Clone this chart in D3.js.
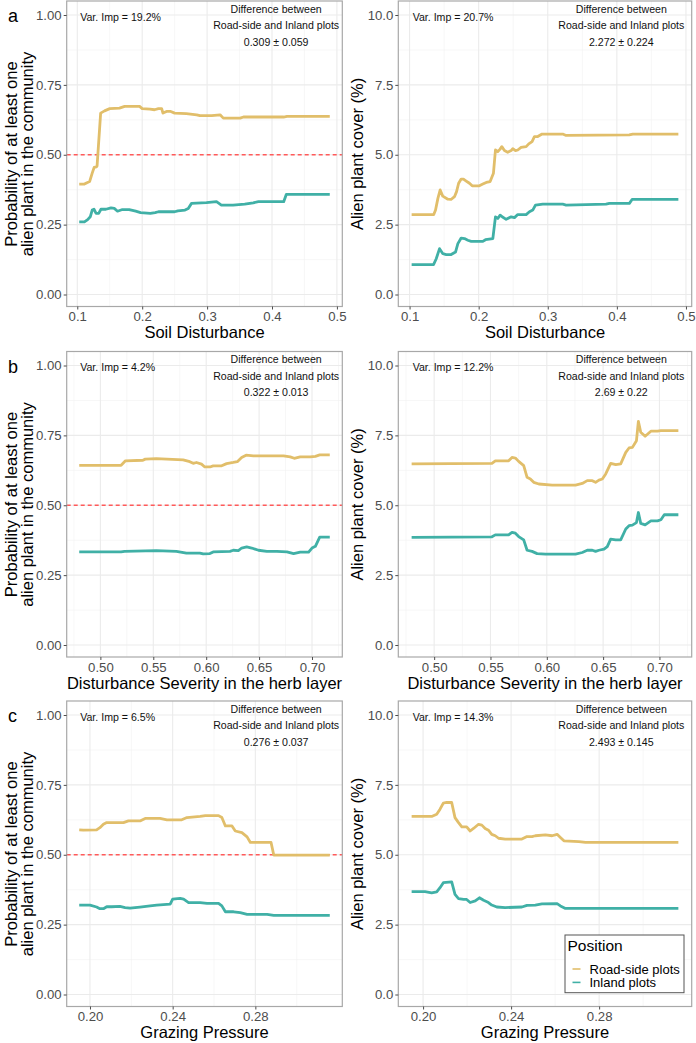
<!DOCTYPE html>
<html>
<head>
<meta charset="utf-8">
<script src="https://cdn.jsdelivr.net/npm/d3@7"></script>
<style>
  body { margin: 0; background: #fff; }
  svg { display: block; font-family: "Liberation Sans", Arial, sans-serif; }
  .tick text { fill: #4d4d4d; font-size: 13.2px; }
  .tick line { stroke: #4d4d4d; }
</style>
</head>
<body>
<svg id="chart" width="696" height="1043"></svg>
<script>
// row a: soil disturbance
const soilProbRoad = [[0.103,0.395],[0.111,0.395],[0.115,0.400],[0.119,0.404],[0.123,0.434],[0.126,0.455],[0.1295,0.457],[0.1305,0.460],[0.136,0.649],[0.142,0.657],[0.150,0.665],[0.165,0.667],[0.173,0.673],[0.196,0.673],[0.200,0.665],[0.212,0.663],[0.219,0.661],[0.225,0.665],[0.230,0.665],[0.232,0.649],[0.2375,0.655],[0.244,0.655],[0.250,0.649],[0.268,0.647],[0.284,0.643],[0.289,0.640],[0.307,0.640],[0.320,0.643],[0.325,0.631],[0.351,0.631],[0.356,0.635],[0.418,0.635],[0.423,0.637],[0.489,0.637]];
const soilProbInland = [[0.103,0.260],[0.111,0.260],[0.116,0.268],[0.120,0.278],[0.123,0.302],[0.1257,0.305],[0.129,0.290],[0.133,0.290],[0.1365,0.305],[0.144,0.305],[0.152,0.310],[0.157,0.308],[0.162,0.298],[0.1695,0.304],[0.180,0.304],[0.190,0.298],[0.1975,0.293],[0.2125,0.290],[0.220,0.293],[0.225,0.296],[0.250,0.296],[0.255,0.299],[0.266,0.302],[0.271,0.308],[0.276,0.326],[0.299,0.329],[0.3145,0.332],[0.322,0.320],[0.340,0.320],[0.358,0.323],[0.371,0.328],[0.379,0.332],[0.418,0.332],[0.422,0.358],[0.489,0.358]];
const soilCoverRoad = [[0.103,2.86],[0.135,2.86],[0.1376,3.02],[0.141,3.44],[0.1443,3.74],[0.148,3.52],[0.1554,3.41],[0.160,3.40],[0.165,3.50],[0.168,3.68],[0.171,3.98],[0.1747,4.13],[0.178,4.13],[0.182,4.06],[0.1867,3.98],[0.1906,3.89],[0.201,3.89],[0.206,3.95],[0.211,4.01],[0.2166,4.04],[0.2214,4.34],[0.2243,5.17],[0.2277,5.11],[0.231,5.20],[0.2335,5.29],[0.2373,5.15],[0.242,5.09],[0.247,5.15],[0.2494,5.22],[0.2533,5.15],[0.2566,5.17],[0.2614,5.26],[0.2687,5.29],[0.2725,5.39],[0.2773,5.47],[0.2807,5.65],[0.2855,5.65],[0.2918,5.74],[0.3217,5.74],[0.3265,5.69],[0.418,5.71],[0.423,5.74],[0.489,5.74]];
const soilCoverInland = [[0.103,1.07],[0.1347,1.07],[0.1386,1.28],[0.1434,1.64],[0.1482,1.46],[0.153,1.43],[0.1602,1.43],[0.1665,1.52],[0.1699,1.82],[0.1747,2.02],[0.1795,2.00],[0.1843,1.94],[0.1892,1.90],[0.206,1.90],[0.2099,1.96],[0.2205,2.00],[0.2243,2.78],[0.2277,2.72],[0.2311,2.84],[0.234,2.78],[0.2398,2.69],[0.247,2.78],[0.2518,2.75],[0.2566,2.86],[0.2687,2.86],[0.2735,2.96],[0.2783,3.02],[0.2822,3.20],[0.2928,3.23],[0.3217,3.23],[0.3265,3.20],[0.3843,3.23],[0.3892,3.26],[0.4181,3.26],[0.422,3.40],[0.489,3.40]];

// row b: disturbance severity in the herb layer
const herbProbRoad = [[0.480,0.643],[0.5196,0.643],[0.5237,0.659],[0.5402,0.661],[0.5424,0.665],[0.5528,0.667],[0.5782,0.662],[0.5845,0.656],[0.5877,0.650],[0.5908,0.653],[0.5956,0.647],[0.5987,0.637],[0.6035,0.637],[0.6066,0.641],[0.6146,0.641],[0.6193,0.649],[0.6256,0.653],[0.6294,0.656],[0.6335,0.671],[0.6377,0.679],[0.6446,0.677],[0.6731,0.677],[0.6794,0.673],[0.6832,0.668],[0.6889,0.673],[0.6984,0.673],[0.7032,0.675],[0.7073,0.680],[0.7168,0.680]];
const herbProbInland = [[0.480,0.333],[0.5196,0.333],[0.5228,0.335],[0.5528,0.338],[0.5718,0.335],[0.5813,0.329],[0.594,0.329],[0.5972,0.326],[0.6035,0.327],[0.6066,0.333],[0.6225,0.335],[0.6256,0.339],[0.6304,0.338],[0.6335,0.347],[0.6383,0.351],[0.643,0.347],[0.6494,0.339],[0.6573,0.335],[0.6668,0.335],[0.6763,0.333],[0.6826,0.327],[0.6889,0.332],[0.6968,0.332],[0.700,0.347],[0.7032,0.353],[0.7073,0.386],[0.7168,0.386]];
const herbCoverRoad = [[0.480,6.48],[0.5513,6.50],[0.5543,6.59],[0.5661,6.59],[0.5691,6.71],[0.5721,6.69],[0.575,6.57],[0.5795,6.42],[0.5825,6.00],[0.5854,5.94],[0.5884,5.82],[0.5929,5.76],[0.6047,5.72],[0.6255,5.72],[0.6315,5.78],[0.6359,5.88],[0.6404,5.88],[0.6433,5.82],[0.6463,5.90],[0.6493,5.94],[0.6523,6.12],[0.6567,6.50],[0.6612,6.45],[0.6656,6.48],[0.6701,6.89],[0.673,7.05],[0.676,7.07],[0.6796,7.31],[0.6813,8.00],[0.6834,7.61],[0.6873,7.47],[0.6924,7.65],[0.6983,7.65],[0.7013,7.67],[0.7168,7.67]];
const herbCoverInland = [[0.480,3.85],[0.5513,3.87],[0.5543,3.94],[0.5661,3.94],[0.5691,4.03],[0.5721,4.00],[0.575,3.88],[0.5795,3.76],[0.5825,3.39],[0.5869,3.35],[0.5914,3.27],[0.5988,3.25],[0.6255,3.25],[0.6315,3.31],[0.6359,3.39],[0.6404,3.39],[0.6433,3.35],[0.6463,3.39],[0.6508,3.43],[0.6537,3.52],[0.6567,3.79],[0.6612,3.76],[0.6656,3.76],[0.6701,4.15],[0.673,4.27],[0.676,4.29],[0.6796,4.38],[0.6813,4.74],[0.6834,4.35],[0.6873,4.30],[0.6924,4.44],[0.6983,4.44],[0.7013,4.48],[0.7043,4.66],[0.7168,4.66]];

// row c: grazing pressure
const grazProbRoad = [[0.1948,0.589],[0.1968,0.588],[0.2032,0.589],[0.2048,0.597],[0.2065,0.609],[0.2081,0.615],[0.2162,0.615],[0.2186,0.621],[0.2242,0.621],[0.2267,0.630],[0.2339,0.630],[0.2372,0.625],[0.2444,0.625],[0.2469,0.633],[0.2533,0.637],[0.2558,0.640],[0.2622,0.640],[0.2638,0.633],[0.2655,0.603],[0.2687,0.603],[0.2703,0.585],[0.2735,0.579],[0.276,0.564],[0.2776,0.544],[0.2876,0.544],[0.2889,0.499],[0.316,0.499]];
const grazProbInland = [[0.1948,0.320],[0.200,0.320],[0.2032,0.313],[0.2048,0.307],[0.2065,0.307],[0.2081,0.314],[0.2105,0.314],[0.2145,0.315],[0.217,0.311],[0.2194,0.309],[0.2218,0.311],[0.2242,0.313],[0.2291,0.317],[0.2323,0.320],[0.2388,0.323],[0.240,0.341],[0.2436,0.344],[0.2453,0.341],[0.2477,0.329],[0.2533,0.329],[0.2566,0.326],[0.2622,0.326],[0.2638,0.317],[0.2655,0.296],[0.2695,0.296],[0.2727,0.293],[0.276,0.287],[0.2857,0.287],[0.2889,0.283],[0.316,0.283]];
const grazCoverRoad = [[0.1948,6.37],[0.2039,6.37],[0.2062,6.45],[0.2077,6.63],[0.2092,6.85],[0.2107,6.87],[0.213,6.87],[0.2145,6.33],[0.2161,6.15],[0.2176,6.00],[0.2198,6.00],[0.2214,5.85],[0.2229,5.94],[0.2252,6.09],[0.2267,6.06],[0.2282,5.94],[0.2297,5.88],[0.2312,5.73],[0.2328,5.68],[0.2343,5.59],[0.2373,5.56],[0.2449,5.56],[0.2472,5.65],[0.2495,5.65],[0.251,5.68],[0.2556,5.71],[0.2586,5.68],[0.2609,5.73],[0.2624,5.62],[0.264,5.50],[0.2708,5.47],[0.2738,5.44],[0.316,5.44]];
const grazCoverInland = [[0.1948,3.68],[0.2009,3.68],[0.2039,3.64],[0.2062,3.67],[0.2077,3.82],[0.2092,4.00],[0.213,4.03],[0.2145,3.58],[0.2161,3.43],[0.2184,3.40],[0.2198,3.40],[0.2214,3.29],[0.2237,3.35],[0.2256,3.46],[0.2275,3.37],[0.2297,3.29],[0.2312,3.20],[0.2335,3.13],[0.2373,3.11],[0.2449,3.13],[0.2472,3.19],[0.251,3.20],[0.254,3.24],[0.2609,3.25],[0.2624,3.17],[0.2647,3.08],[0.316,3.08]];

const rowLetters = ["a", "b", "c"];
const xTitles = ["Soil Disturbance", "Disturbance Severity in the herb layer", "Grazing Pressure"];
const xTickValues = [[0.1, 0.2, 0.3, 0.4, 0.5], [0.50, 0.55, 0.60, 0.65, 0.70], [0.20, 0.24, 0.28]];
const xMinorValues = [[0.15, 0.25, 0.35, 0.45], [0.475, 0.525, 0.575, 0.625, 0.675, 0.725], [0.22, 0.26, 0.30]];
const xTickFormats = [".1f", ".2f", ".2f"];
const varImpProb = ["19.2%", "4.2%", "6.5%"];
const varImpCover = ["20.7%", "12.2%", "14.3%"];
const diffProb = ["0.309 \u00b1 0.059", "0.322 \u00b1 0.013", "0.276 \u00b1 0.037"];
const diffCover = ["2.272 \u00b1 0.224", "2.69 \u00b1 0.22", "2.493 \u00b1 0.145"];
const probTicks = [0, 0.25, 0.5, 0.75, 1];
const coverTicks = [0, 2.5, 5, 7.5, 10];
const positions = ["Road-side plots", "Inland plots"];
const colors = ["#E1BE6A", "#40B0A6"];

const rowData = [
  [[soilProbRoad, soilProbInland], [soilCoverRoad, soilCoverInland]],
  [[herbProbRoad, herbProbInland], [herbCoverRoad, herbCoverInland]],
  [[grazProbRoad, grazProbInland], [grazCoverRoad, grazCoverInland]]
];

const svg = d3.select("#chart");
const rowTops = [1, 351.5, 701];
const panelH = 305.5;
const cols = [
  {left: 66.7, right: 342.3, ticks: probTicks, fmt: ".2f", max: 1, title: ["Probability of at least one", "alien plant in the community"], vi: varImpProb, diff: diffProb, hline: 0.5},
  {left: 398.3, right: 691.7, ticks: coverTicks, fmt: ".1f", max: 10, title: ["Alien plant cover (%)"], vi: varImpCover, diff: diffCover, hline: null}
];

rowTops.forEach(function(top, r) {
  cols.forEach(function(col, c) {
    var series = rowData[r][c];
    var allX = series[0].concat(series[1]).map(function(d) { return d[0]; });
    var ext = d3.extent(allX);
    var pad = (ext[1] - ext[0]) * 0.05;
    var x = d3.scaleLinear().domain([ext[0] - pad, ext[1] + pad]).range([col.left, col.right]);
    var y = d3.scaleLinear().domain([0, col.max]).range([top + 293.5, top + 14]);
    var yMinor = col.ticks.slice(1).map(function(t, i) { return (t + col.ticks[i]) / 2; });
    var g = svg.append("g");

    // grid
    g.selectAll(".ymin").data(yMinor).enter().append("line")
      .attr("x1", col.left).attr("x2", col.right)
      .attr("y1", function(d) { return y(d); }).attr("y2", function(d) { return y(d); })
      .attr("stroke", "#f2f2f2").attr("stroke-width", 0.6);
    g.selectAll(".xmin").data(xMinorValues[r]).enter().append("line")
      .attr("x1", function(d) { return x(d); }).attr("x2", function(d) { return x(d); })
      .attr("y1", top).attr("y2", top + panelH)
      .attr("stroke", "#f2f2f2").attr("stroke-width", 0.6);
    g.selectAll(".ymaj").data(col.ticks).enter().append("line")
      .attr("x1", col.left).attr("x2", col.right)
      .attr("y1", function(d) { return y(d); }).attr("y2", function(d) { return y(d); })
      .attr("stroke", "#ebebeb").attr("stroke-width", 1.1);
    g.selectAll(".xmaj").data(xTickValues[r]).enter().append("line")
      .attr("x1", function(d) { return x(d); }).attr("x2", function(d) { return x(d); })
      .attr("y1", top).attr("y2", top + panelH)
      .attr("stroke", "#ebebeb").attr("stroke-width", 1.1);

    if (col.hline !== null) {
      g.append("line")
        .attr("x1", col.left).attr("x2", col.right)
        .attr("y1", y(col.hline)).attr("y2", y(col.hline))
        .attr("stroke", "#ff5a5a").attr("stroke-width", 1.3)
        .attr("stroke-dasharray", "4,3");
    }

    var line = d3.line().x(function(d) { return x(d[0]); }).y(function(d) { return y(d[1]); });
    series.forEach(function(s, i) {
      g.append("path").datum(s)
        .attr("d", line)
        .attr("fill", "none")
        .attr("stroke", colors[i])
        .attr("stroke-width", 2.8)
        .attr("stroke-linejoin", "round");
    });

    // border
    g.append("rect")
      .attr("x", col.left).attr("y", top)
      .attr("width", col.right - col.left).attr("height", panelH)
      .attr("fill", "none").attr("stroke", "#a8a8a8").attr("stroke-width", 1.2);

    // axes
    var ya = g.append("g").attr("transform", "translate(" + col.left + ",0)")
      .call(d3.axisLeft(y).tickValues(col.ticks).tickFormat(d3.format(col.fmt)).tickSize(3).tickPadding(2));
    ya.select(".domain").remove();
    var xa = g.append("g").attr("transform", "translate(0," + (top + panelH) + ")")
      .call(d3.axisBottom(x).tickValues(xTickValues[r]).tickFormat(d3.format(xTickFormats[r])).tickSize(3).tickPadding(2.5));
    xa.select(".domain").remove();

    // axis titles
    g.append("text")
      .attr("x", (col.left + col.right) / 2).attr("y", top + 337)
      .attr("text-anchor", "middle").attr("font-size", 16.5).attr("fill", "#000")
      .text(xTitles[r]);
    var tx = c === 0 ? 16.5 : 362.5;
    col.title.forEach(function(t, k) {
      g.append("text")
        .attr("transform", "translate(" + (tx + k * 16) + "," + (top + 153) + ") rotate(-90)")
        .attr("text-anchor", "middle").attr("font-size", 16.5).attr("fill", "#000")
        .text(t);
    });

    // annotations
    var w = col.right - col.left;
    g.append("text")
      .attr("x", col.left + w * 0.049).attr("y", top + 19.5)
      .attr("font-size", 10.6).attr("fill", "#111")
      .text("Var. Imp = " + col.vi[r]);
    var cx = col.left + w * 0.76;
    ["Difference between", "Road-side and Inland plots", col.diff[r]].forEach(function(t, k) {
      g.append("text")
        .attr("x", cx).attr("y", top + 11.8 + k * 16.5)
        .attr("text-anchor", "middle").attr("font-size", 10.6).attr("fill", "#111")
        .text(t);
    });
  });

  svg.append("text")
    .attr("x", 8).attr("y", top + 21)
    .attr("font-size", 18).attr("fill", "#000")
    .text(rowLetters[r]);
});

// legend
var lg = svg.append("g");
lg.append("rect")
  .attr("x", 565).attr("y", 935).attr("width", 119).attr("height", 57.7)
  .attr("fill", "#fff").attr("stroke", "#555").attr("stroke-width", 1);
lg.append("text").attr("x", 567.5).attr("y", 951)
  .attr("font-size", 15.5).attr("fill", "#000").text("Position");
positions.forEach(function(p, i) {
  lg.append("line")
    .attr("x1", 572.5).attr("x2", 580.5)
    .attr("y1", 969 + i * 13.4).attr("y2", 969 + i * 13.4)
    .attr("stroke", colors[i]).attr("stroke-width", 1.6);
  lg.append("text").attr("x", 589.5).attr("y", 973.5 + i * 13.4)
    .attr("font-size", 13).attr("fill", "#000").text(p);
});
</script>
</body>
</html>
